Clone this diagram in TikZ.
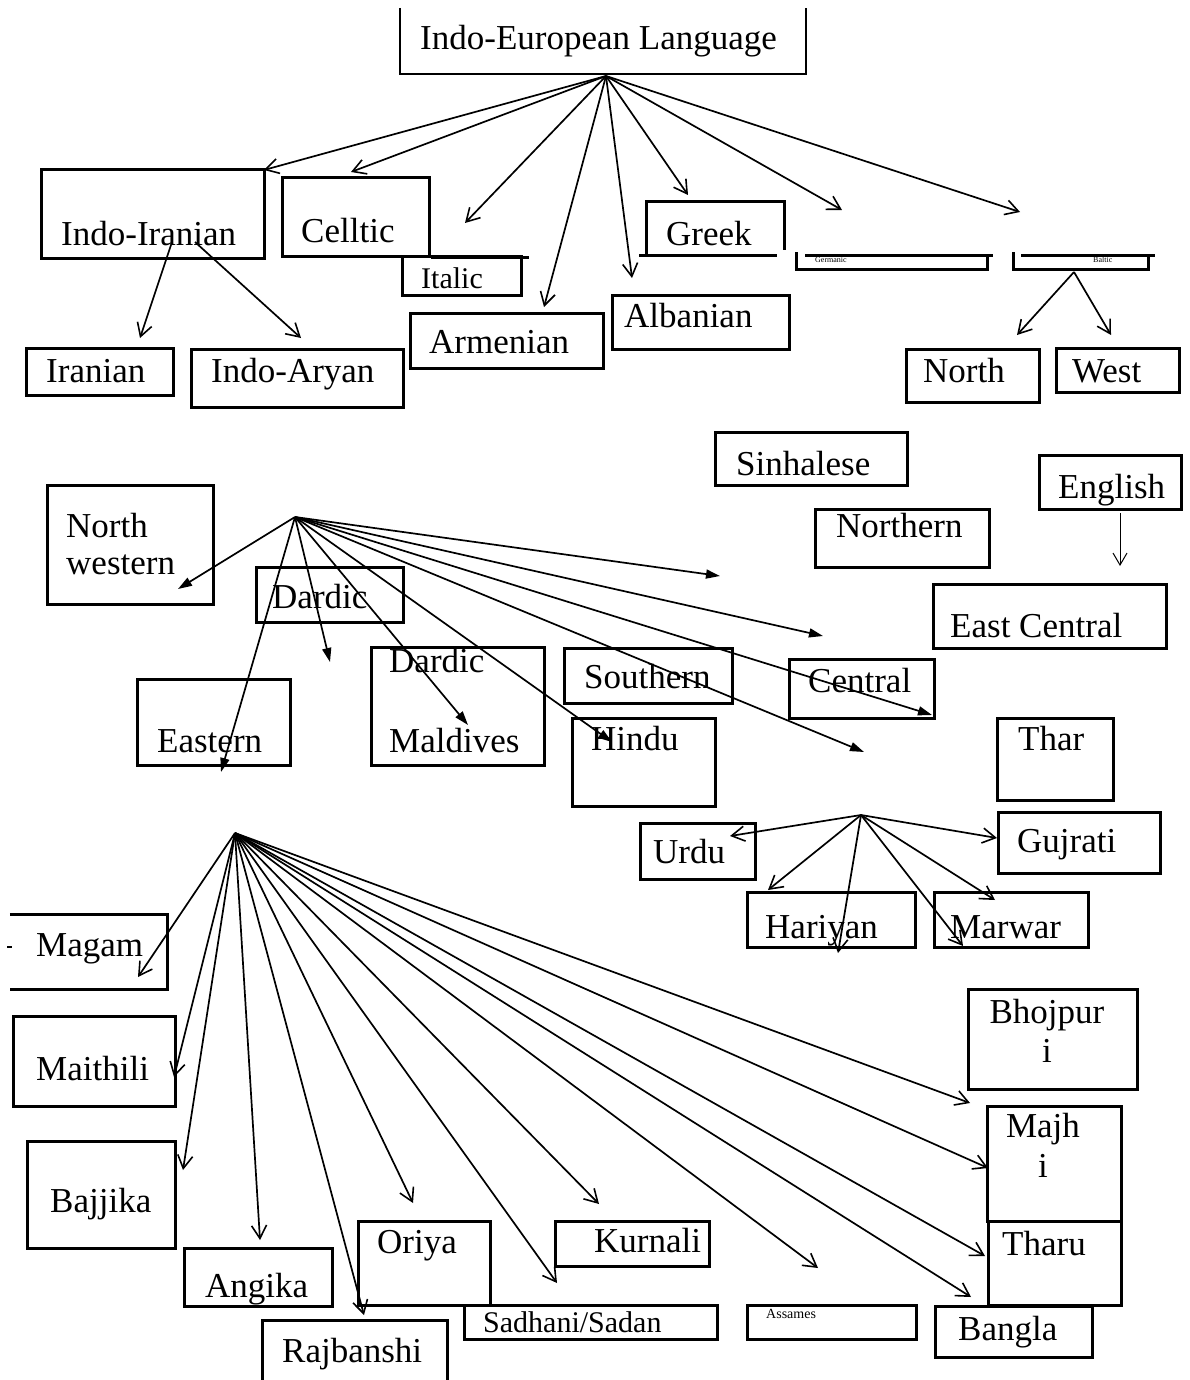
\documentclass[tikz,border=0pt]{standalone}
\usepackage{fontspec}
\setmainfont{Liberation Serif}
\usetikzlibrary{arrows.meta,fit}

\begin{document}
\begin{tikzpicture}[x=1pt,y=-1pt,
  box/.style={draw, line width=3pt, inner sep=0pt},
  frame/.style={inner sep=0pt},
  edge/.style={line width=3pt},
  lbl/.style={anchor=base west, inner sep=0pt, font=\fontsize{35}{40}\selectfont},
  lblc/.style={anchor=base, inner sep=0pt, font=\fontsize{35}{40}\selectfont},
  small/.style={anchor=base west, inner sep=0pt, font=\fontsize{30}{36}\selectfont},
  tiny/.style={anchor=base west, inner sep=0pt, font=\fontsize{8}{9}\selectfont},
  vee/.style={line width=1.7pt, -{Straight Barb[length=13pt,width=15pt,line width=1.6pt]}},
  solidtip/.style={line width=1.7pt, -{Triangle[length=14pt,width=9pt]}},
]
\useasboundingbox[fill=white] (0,0) rectangle (1189,1380);

% ---------- root ----------
\node[frame, fit={(400,8) (806,74)}] (ie) {};
\draw[line width=1.8pt] (ie.north west) -- (ie.south west) -- (ie.south east) -- (ie.north east);
\node[lbl] (ie-t) at (420,50) {Indo-European Language};
\coordinate (hub1) at (606,76);

% ---------- first level ----------
\node[box, fit={(41,170) (264,258)}] (iir) {};
\node[lbl] at (61,245) {Indo-Iranian};
\node[box, fit={(282,178) (429,256)}] (cel) {};
\node[lbl] at (301,243) {Celltic};
\draw[edge] (cel.south east) -- ++(98,0);
\node[box, fit={(402,256) (521,295)}] (ita) {};
\node[small] at (421,288) {Italic};
\node[box, fit={(410,313) (603,368)}] (arm) {};
\node[lbl] at (429,353) {Armenian};
\node[box, fit={(612,295) (789,349)}] (alb) {};
\node[lbl] at (624,327) {Albanian};
\node[frame, fit={(647,202) (784,255)}] (grk) {};
\draw[edge] (grk.south west) -- (grk.north west) -- (grk.north east) -- ++(0,48);
\draw[edge] (639,255) -- (777,255);
\node[lbl] at (666,245) {Greek};

% Germanic and Baltic brackets
\node[frame, fit={(796,255) (987,268)}] (ger) {};
\draw[edge] (805,255) -- (993,255);
\draw[edge] (796,252) -- (796,269) -- (987,269) -- (987,256);
\node[tiny] at (815,262) {Germanic};
\node[frame, fit={(1013,255) (1148,268)}] (bal) {};
\draw[edge] (1021,255) -- (1155,255);
\draw[edge] (1013,252) -- (1013,269) -- (1148,269) -- (1148,256);
\node[tiny] at (1093,262) {Baltic};

% ---------- second level ----------
\node[box, fit={(26,348) (173,395)}] (irn) {};
\node[lbl] at (46,382) {Iranian};
\node[box, fit={(191,349) (403,407)}] (iar) {};
\node[lbl] at (211,382) {Indo-Aryan};
\node[box, fit={(906,349) (1039,402)}] (nor) {};
\node[lbl] at (923,382) {North};
\node[box, fit={(1056,348) (1179,392)}] (wes) {};
\node[lbl] at (1072,382) {West};

% ---------- middle block ----------
\node[box, fit={(715,432) (907,485)}] (sin) {};
\node[lbl] at (736,475) {Sinhalese};
\node[box, fit={(1039,455) (1181,509)}] (eng) {};
\node[lbl] at (1058,498) {English};
\node[box, fit={(815,509) (989,567)}] (nrn) {};
\node[lbl] at (836,537) {Northern};
\node[box, fit={(933,584) (1166,648)}] (ecn) {};
\node[lbl] at (950,637) {East Central};
\node[box, fit={(47,485) (213,604)}] (nwe) {};
\node[lbl] at (66,537) {North};
\node[lbl] at (66,574) {western};
\node[box, fit={(256,567) (403,622)}] (dar) {};
\node[lbl] at (272,608) {Dardic};
\node[box, fit={(371,647) (544,765)}] (dmv) {};
\node[lbl] at (389,672) {Dardic};
\node[lbl] at (389,752) {Maldives};
\node[box, fit={(137,679) (290,765)}] (eas) {};
\node[lbl] at (157,752) {Eastern};
\node[box, fit={(564,648) (732,703)}] (sou) {};
\node[lbl] at (584,688) {Southern};
\node[box, fit={(789,659) (934,718)}] (cen) {};
\node[lbl] at (808,692) {Central};
\node[box, fit={(572,718) (715,806)}] (hin) {};
\node[lbl] at (591,750) {Hindu};
\node[box, fit={(997,718) (1113,800)}] (tha) {};
\node[lbl] at (1018,750) {Thar};
\node[box, fit={(640,823) (755,879)}] (urd) {};
\node[lbl] at (653,863) {Urdu};
\node[box, fit={(998,812) (1160,873)}] (guj) {};
\node[lbl] at (1017,852) {Gujrati};
\node[box, fit={(747,892) (915,947)}] (har) {};
\node[lbl] at (765,938) {Hariyan};
\node[box, fit={(934,892) (1088,947)}] (mar) {};
\node[lbl] at (950,938) {Marwar};

% ---------- lower block ----------
\node[frame, fit={(10,915) (167,989)}] (mag) {};
\draw[edge] (mag.north west) -- (mag.north east) -- (mag.south east) -- (mag.south west);
\draw[line width=2pt] (7,947) -- (12,947);
\node[lbl] at (36,956) {Magam};
\node[box, fit={(13,1016) (175,1106)}] (mai) {};
\node[lbl] at (36,1080) {Maithili};
\node[box, fit={(27,1141) (175,1248)}] (baj) {};
\node[lbl] at (50,1212) {Bajjika};
\node[box, fit={(184,1248) (332,1306)}] (ang) {};
\node[lbl] at (205,1297) {Angika};
\node[frame, fit={(263,1321) (447,1380)}] (raj) {};
\draw[edge] (raj.south west) -- (raj.north west) -- (raj.north east) -- (raj.south east);
\node[lbl] at (282,1362) {Rajbanshi};
\node[box, fit={(358,1221) (490,1305)}] (ori) {};
\node[lbl] at (377,1253) {Oriya};
\node[box, fit={(464,1305) (717,1339)}] (sad) {};
\node[small] at (483,1332) {Sadhani/Sadan};
\node[box, fit={(555,1221) (709,1266)}] (kur) {};
\node[lbl] at (594,1252) {Kurnali};
\node[box, fit={(747,1305) (916,1339)}] (ass) {};
\node[anchor=base west, inner sep=0pt, font=\fontsize{14}{16}\selectfont] at (766,1318) {Assames};
\node[box, fit={(935,1306) (1092,1357)}] (ban) {};
\node[lbl] at (958,1340) {Bangla};
\node[box, fit={(988,1221) (1121,1305)}] (tru) {};
\node[lbl] at (1002,1255) {Tharu};
\node[box, fit={(987,1106) (1121,1221)}] (maj) {};
\node[lblc] at (1043,1137) {Majh};
\node[lblc] at (1043,1177) {i};
\node[box, fit={(968,989) (1137,1089)}] (bho) {};
\node[lblc] at (1047,1023) {Bhojpur};
\node[lblc] at (1047,1062) {i};

% ---------- arrows from the root ----------
\foreach \n/\p in {a/{264,170}, b/{351,172}, c/{465,223}, d/{544,307},
                   e/{632,278}, f/{688,195}, g/{842,210}, h/{1020,212}}
  \coordinate (r-\n) at (\p);
\foreach \n in {a,b,c,d,e,f,g,h}
  \draw[vee] (hub1) -- (r-\n);

% Indo-Iranian split
\coordinate (ii1) at (172,242);
\coordinate (ii2) at (195,242);
\coordinate (ii-a) at (140,338);
\coordinate (ii-b) at (301,338);
\draw[vee] (ii1) -- (ii-a);
\draw[vee] (ii2) -- (ii-b);

% Baltic split
\coordinate (bh) at (1074,272);
\coordinate (bh-a) at (1017,335);
\coordinate (bh-b) at (1111,335);
\draw[vee] (bh) -- (bh-a);
\draw[vee] (bh) -- (bh-b);

% English
\coordinate (en-a) at (1120,513);
\coordinate (en-b) at (1120,566);
\draw[line width=1pt, -{Straight Barb[length=12pt,width=14pt,line width=1pt]}] (en-a) -- (en-b);

% Indo-Aryan fan
\coordinate (hub2) at (295,517);
\foreach \n/\p in {a/{178,589}, b/{221,772}, c/{330,662}, d/{468,725}, e/{612,742},
                   f/{720,576}, g/{823,636}, h/{932,715}, i/{864,752}}
  \coordinate (m-\n) at (\p);
\foreach \n in {a,b,c,d,e,f,g,h,i}
  \draw[solidtip] (hub2) -- (m-\n);

% Central fan
\coordinate (hub3) at (861,815);
\foreach \n/\p in {a/{730,836}, b/{997,838}, c/{768,890}, d/{838,953},
                   e/{963,946}, f/{995,900}}
  \coordinate (c-\n) at (\p);
\foreach \n in {a,b,c,d,e,f}
  \draw[vee] (hub3) -- (c-\n);

% Eastern fan
\coordinate (hub4) at (235,833);
\foreach \n/\p in {a/{138,977}, b/{174,1077}, c/{183,1170}, d/{260,1240},
                   e/{364,1315}, f/{413,1203}, g/{557,1283}, h/{599,1204},
                   i/{818,1268}, j/{985,1256}, k/{971,1297}, l/{988,1168},
                   m/{970,1103}}
  \coordinate (e-\n) at (\p);
\foreach \n in {a,b,c,d,e,f,g,h,i,j,k,l,m}
  \draw[vee] (hub4) -- (e-\n);

\end{tikzpicture}
\end{document}
